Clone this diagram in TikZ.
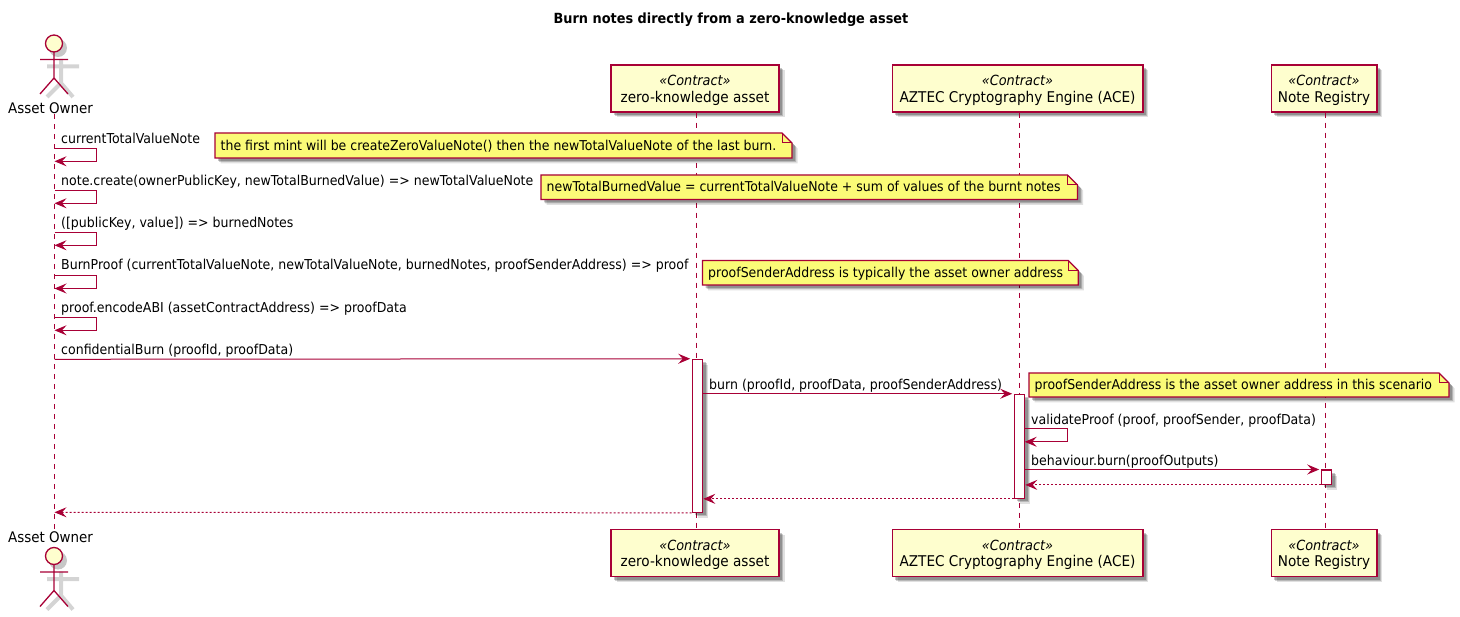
\documentclass[tikz,border=0pt]{standalone}
\usepackage{fontspec}
\setmainfont[FakeStretch=0.92]{DejaVu Sans}
\usetikzlibrary{arrows.meta}
\definecolor{umlred}{HTML}{A80036}
\definecolor{umlfill}{HTML}{FEFECE}
\definecolor{umlnote}{HTML}{FBFB77}
\tikzset{
  softshadow/.style={
    preaction={draw=none,fill=black,opacity=.12,transform canvas={xshift=5.5pt,yshift=-5.5pt}},
    preaction={draw=none,fill=black,opacity=.18,transform canvas={xshift=4pt,yshift=-4pt}},
    preaction={draw=none,fill=black,opacity=.22,transform canvas={xshift=3pt,yshift=-3pt}}},
  lineshadow/.style={draw=black,opacity=.17,line width=4pt,transform canvas={xshift=5pt,yshift=-5pt}},
  contract/.style={draw=umlred,fill=umlfill,line width=1.5pt,softshadow,align=center,inner sep=0pt,minimum height=47pt,font=\fontsize{14.8}{16.7}\selectfont},
  lifeline/.style={draw=umlred,line width=1pt,dash pattern=on 5pt off 5pt},
  msg/.style={draw=umlred,line width=1pt,-{Stealth[length=12pt,width=10pt,inset=4.5pt]}},
  ret/.style={draw=umlred,line width=1pt,dash pattern=on 2pt off 2pt,-{Stealth[length=12pt,width=10pt,inset=4.5pt,sep=0pt]}},
  gapped/.style={shorten >=1.5pt},
  msgtext/.style={anchor=base west,inner sep=0pt,font=\fontsize{13.65}{15}\selectfont},
  notetext/.style={anchor=base west,inner sep=0pt,font=\fontsize{13.6}{15}\selectfont},
  actortext/.style={inner sep=0pt,font=\fontsize{14.6}{16}\selectfont},
  actvbar/.style={draw=umlred,fill=white,line width=1.1pt,softshadow,inner sep=0pt,minimum width=10.5pt},
  actorline/.style={draw=umlred,line width=1.3pt},
}
\newcommand{\umlstereo}{{\rule{0pt}{14pt}\fontsize{14}{16}\selectfont\textit{«Contract»}}}
\newcommand{\umlactor}[2]{% top y of head, x
  \fill[black,opacity=.22] (#2+4,#1+13) circle (9);
  \draw[lineshadow] (#2-12,#1+26.5) -- (#2+20,#1+26.5) (#2+2,#1+19) -- (#2+2,#1+43) -- (#2-12,#1+57) (#2+2,#1+43) -- (#2+14,#1+57);
  \draw[actorline,fill=umlfill] (#2,#1+8.5) circle (8.5);
  \draw[actorline] (#2-14,#1+24.5) -- (#2+14,#1+24.5) (#2,#1+17) -- (#2,#1+43) -- (#2-14,#1+59) (#2,#1+43) -- (#2+14,#1+59);
}
\newcommand{\umlnotebox}[6]{% name x1 y1 x2 y2 text
  \draw[draw=umlred,fill=umlnote,line width=1.2pt,softshadow]
    (#2,#3) -- (#4-10,#3) -- (#4,#3+10) -- (#4,#5) -- (#2,#5) -- cycle;
  \draw[draw=umlred,line width=1pt] (#4-10,#3) -- (#4-10,#3+10) -- (#4,#3+10);
  \node[notetext] (#1) at (#2+5.5,#5-7.5) {#6};
}
\begin{document}
\begin{tikzpicture}[x=1pt,y=-1pt]
\useasboundingbox (0,0) rectangle (1460,617);
\node[inner sep=0pt,font=\bfseries\fontsize{14}{16}\selectfont] (title) at (731,19.5) {Burn notes directly from a zero-knowledge asset};

% participants
\node[contract,minimum width=168pt] (zkaT) at (695,88.5) {\umlstereo\\zero-knowledge asset};
\node[contract,minimum width=250.5pt] (aceT) at (1017.5,88.5) {\umlstereo\\AZTEC Cryptography Engine (ACE)};
\node[contract,minimum width=105.5pt] (regT) at (1324,88.5) {\umlstereo\\Note Registry};
\node[contract,minimum width=168pt] (zkaB) at (695,553) {\umlstereo\\zero-knowledge asset};
\node[contract,minimum width=250.5pt] (aceB) at (1017.5,553) {\umlstereo\\AZTEC Cryptography Engine (ACE)};
\node[contract,minimum width=105.5pt] (regB) at (1324,553) {\umlstereo\\Note Registry};

% actors
\umlactor{35}{54}
\umlactor{547.5}{54}
\node[actortext] (ownT) at (50.5,108.5) {Asset Owner};
\node[actortext] (ownB) at (50.5,537.5) {Asset Owner};

% lifelines
\draw[lifeline] ([xshift=4pt]ownT.south) -- ([xshift=4pt]ownB.north);
\draw[lifeline] ([xshift=1.5pt]zkaT.south) -- ([xshift=1.5pt]zkaB.north);
\draw[lifeline] ([xshift=1.8pt]aceT.south) -- ([xshift=1.8pt]aceB.north);
\draw[lifeline] ([xshift=1.3pt]regT.south) -- ([xshift=1.3pt]regB.north);

% notes
\umlnotebox{n1}{215}{133}{792}{158}{the first mint will be createZeroValueNote() then the newTotalValueNote of the last burn.}
\umlnotebox{n2}{541}{175}{1077.5}{199.5}{newTotalBurnedValue = currentTotalValueNote + sum of values of the burnt notes}
\umlnotebox{n3}{702.5}{260.5}{1078.3}{285}{proofSenderAddress is typically the asset owner address}
\umlnotebox{n4}{1029}{373}{1449}{397}{proofSenderAddress is the asset owner address in this scenario}

% activation bars
\node[actvbar,minimum height=153pt] (azka) at (697.5,435.8) {};
\node[actvbar,minimum height=104pt] (aace) at (1019.5,446.3) {};
\node[actvbar,minimum height=14.3pt] (areg) at (1326.5,477.2) {};

% self messages
\coordinate (o1a) at (54.5,148.3); \coordinate (o1b) at (96.7,148.3); \coordinate (o1c) at (96.7,161.3); \coordinate (o1d) at (54.5,161.3);
\coordinate (o2a) at (54.5,190.3); \coordinate (o2b) at (96.7,190.3); \coordinate (o2c) at (96.7,203.3); \coordinate (o2d) at (54.5,203.3);
\coordinate (o3a) at (54.5,232.3); \coordinate (o3b) at (96.7,232.3); \coordinate (o3c) at (96.7,245.3); \coordinate (o3d) at (54.5,245.3);
\coordinate (o4a) at (54.5,275.3); \coordinate (o4b) at (96.7,275.3); \coordinate (o4c) at (96.7,288.5); \coordinate (o4d) at (54.5,288.5);
\coordinate (o5a) at (54.5,317.3); \coordinate (o5b) at (96.7,317.3); \coordinate (o5c) at (96.7,330.3); \coordinate (o5d) at (54.5,330.3);
\draw[msg] (o1a) -- (o1b) -- (o1c) -- (o1d);
\draw[msg] (o2a) -- (o2b) -- (o2c) -- (o2d);
\draw[msg] (o3a) -- (o3b) -- (o3c) -- (o3d);
\draw[msg] (o4a) -- (o4b) -- (o4c) -- (o4d);
\draw[msg] (o5a) -- (o5b) -- (o5c) -- (o5d);
\node[msgtext] (t1) at (61,144) {currentTotalValueNote};
\node[msgtext] (t2) at (61,186) {note.create(ownerPublicKey, newTotalBurnedValue) => newTotalValueNote};
\node[msgtext] (t3) at (61,228) {([publicKey, value]) => burnedNotes};
\node[msgtext] (t4) at (61,270) {BurnProof (currentTotalValueNote, newTotalValueNote, burnedNotes, proofSenderAddress) => proof};
\node[msgtext] (t5) at (61,312.7) {proof.encodeABI (assetContractAddress) => proofData};

% calls
\coordinate (c1) at (54.5,359.3);
\draw[msg,gapped] (c1) -- (azka.north west);
\node[msgtext] (t6) at (61,354.7) {confidentialBurn (proofId, proofData)};
\draw[msg,gapped] (azka.east |- aace.north) -- (aace.north west);
\node[msgtext] (t7) at (709,389.5) {burn (proofId, proofData, proofSenderAddress)};
\coordinate (v1) at (1024.7,428.8); \coordinate (v2) at (1067,428.8); \coordinate (v3) at (1067,441.8); \coordinate (v4) at (1024.7,441.8);
\draw[msg] (v1) -- (v2) -- (v3) -- (v4);
\node[msgtext] (t8) at (1031,424.8) {validateProof (proof, proofSender, proofData)};
\draw[msg,gapped] (aace.east |- areg.north) -- (areg.north west);
\node[msgtext] (t9) at (1031,466) {behaviour.burn(proofOutputs)};

% returns
\draw[ret] (areg.south west) -- (aace.east |- areg.south);
\draw[ret] (aace.south west) -- (azka.east |- aace.south);
\coordinate (r1) at (54.5,512.3);
\draw[ret] (azka.south west) -- (r1);
\end{tikzpicture}
\end{document}
